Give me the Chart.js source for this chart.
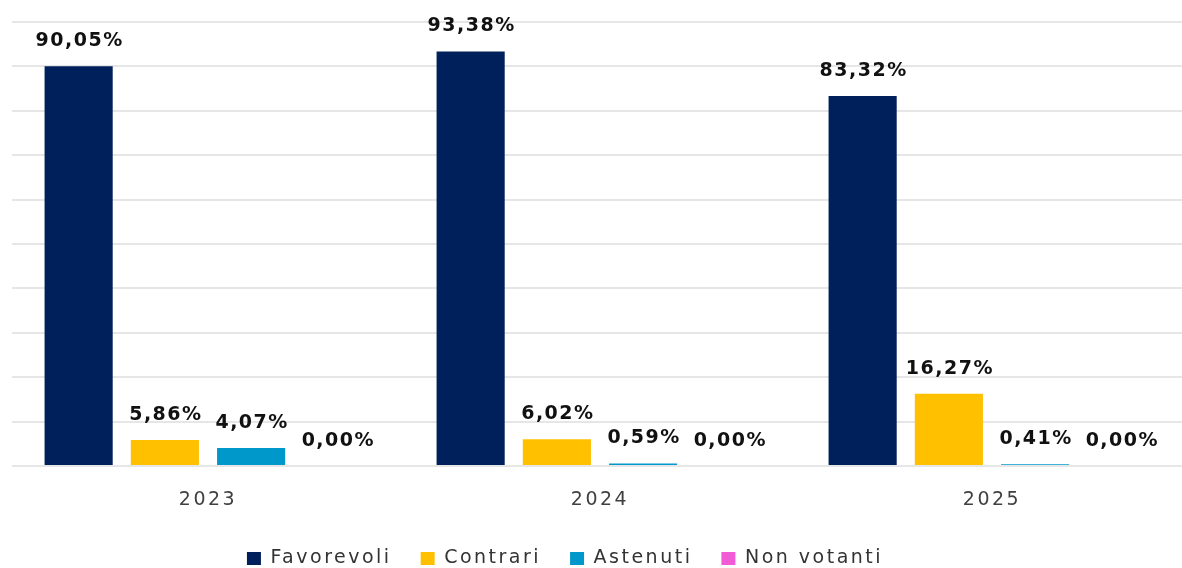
<!DOCTYPE html>
<html lang="it">
<head>
<meta charset="UTF-8" />
<meta name="viewport" content="width=device-width,initial-scale=1" />
<title>Esiti delle votazioni 2023-2025</title>
<script src="https://cdn.jsdelivr.net/npm/chart.js@4.4.1/dist/chart.umd.min.js"></script>
<style>
html,body{margin:0;padding:0;background:#fff;overflow:hidden}
/* slightly wider than the window: the original crops the plot on the right */
.wrap{width:1188px;height:568px;position:relative}
#voti{display:block}
</style>
</head>
<body>
<div class="wrap"><canvas id="voti"></canvas></div>

<script>
/* ── dati ─────────────────────────────────────────────── */
const anni        = ['2023', '2024', '2025'];
const favorevoli  = [90.05, 93.38, 83.32];
const contrari    = [5.86, 6.02, 16.27];
const astenuti    = [4.07, 0.59, 0.41];
const nonVotanti  = [0.00, 0.00, 0.00];
const yTicks      = [0, 10, 20, 30, 40, 50, 60, 70, 80, 90, 100];

const FONT = '"DejaVu Sans", sans-serif';
const fmt = v => v.toFixed(2).replace('.', ',') + '%';

/* letter spacing to mimic the wide typeface of the original */
const spaziatura = {
  id: 'spaziatura',
  beforeLayout(chart){ chart.ctx.letterSpacing = '2.5px'; },
  afterLayout(chart){
    // legend sits left of centre in the original
    chart.legend.left -= 35;
    chart.legend.right -= 35;
  },
  beforeDraw(chart){ chart.ctx.letterSpacing = '2.5px'; }
};

/* value labels above each bar */
const etichette = {
  id: 'etichette',
  afterDatasetsDraw(chart){
    const ctx = chart.ctx;
    ctx.save();
    ctx.font = 'bold 19px ' + FONT;
    ctx.letterSpacing = '1.5px';
    ctx.fillStyle = '#111111';
    ctx.textAlign = 'center';
    ctx.textBaseline = 'middle';
    chart.data.datasets.forEach((ds, i) => {
      chart.getDatasetMeta(i).data.forEach((bar, j) => {
        ctx.fillText(fmt(ds.data[j]), bar.x + 1, bar.y - 25);
      });
    });
    ctx.restore();
  }
};

const serie = (label, data, color) => ({
  label, data,
  backgroundColor: color,
  borderWidth: 0,
  categoryPercentage: 0.88,
  barPercentage: 0.79
});

new Chart(document.getElementById('voti').getContext('2d'), {
  type: 'bar',
  data: {
    labels: anni,
    datasets: [
      serie('Favorevoli', favorevoli, '#00205B'),
      serie('Contrari', contrari, '#FFC000'),
      serie('Astenuti', astenuti, '#0098CA'),
      serie('Non votanti', nonVotanti, '#F25BD6')
    ]
  },
  options: {
    responsive: true,
    maintainAspectRatio: false,
    animation: false,
    layout: { padding: { top: 22, left: 12, right: 0, bottom: -10 } },
    plugins: {
      tooltip: { enabled: false },
      legend: {
        position: 'bottom',
        labels: {
          font: { family: FONT, size: 19 },
          color: '#333333',
          boxWidth: 14,
          boxHeight: 13,
          padding: 29
        }
      }
    },
    scales: {
      x: {
        grid: { display: false, drawTicks: false },
        border: { display: false },
        ticks: { font: { family: FONT, size: 19 }, color: '#404040', padding: 23 },
        afterFit: s => { s.height = 54; }
      },
      y: {
        min: 0, max: 100,
        afterBuildTicks: s => { s.ticks = yTicks.map(v => ({ value: v })); },
        grid: { color: '#e6e6e6', lineWidth: 2, drawTicks: false },
        border: { display: false },
        ticks: { display: false }
      }
    }
  },
  plugins: [spaziatura, etichette]
});
</script>
</body>
</html>
